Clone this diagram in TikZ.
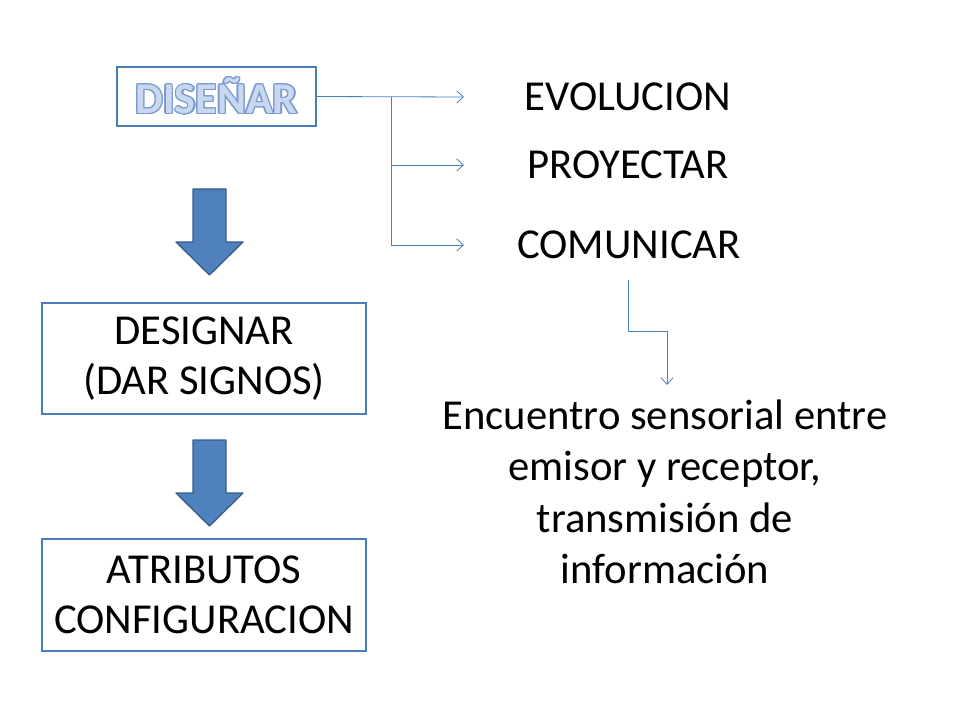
\documentclass[tikz,border=0pt]{standalone}
\usepackage{fontspec}
\setmainfont{Carlito}
\usepackage{contour}
\usetikzlibrary{arrows.meta}
\definecolor{boxblue}{HTML}{4A7EBB}
\definecolor{fillblue}{HTML}{4F81BD}
\definecolor{darkblue}{HTML}{385D8A}
\definecolor{outblue}{HTML}{7B9BD0}
\definecolor{lightblue}{HTML}{C9D8EE}
\contourlength{0.9pt}
\begin{document}
\begin{tikzpicture}[x=0.75pt,y=-0.75pt]
\tikzset{box/.style={draw=boxblue,line width=1.5pt,align=center,inner sep=0pt,
  font=\fontsize{32}{37.5}\selectfont},
 word/.style={align=center,inner sep=0pt,font=\fontsize{32}{38.5}\selectfont},
 link/.style={draw=boxblue,line width=0.6pt,-{Straight Barb[length=5pt,width=9pt]}},
 blockarrow/.style={fill=fillblue,draw=darkblue,line width=1pt,line join=round}}
\useasboundingbox (0,0) rectangle (960,720);
% The boxes on the left
\node[box,minimum width=149pt,minimum height=44pt] (dis) at (216.5,96.5)
  {\fontsize{33}{38}\selectfont\bfseries\contour{outblue}{\textcolor{lightblue}{DISEÑAR}}};
\node[box,minimum width=243pt,minimum height=83pt] (des) at (204,358.5)
  {DESIGNAR\\(DAR SIGNOS)};
\node[box,minimum width=243pt,minimum height=84pt] (atr) at (204,595)
  {ATRIBUTOS\\CONFIGURACION};
%%%
\foreach \top in {189,440}
  \draw[blockarrow] (193,\top) -- (226,\top) -- (226,\top+53) -- (243,\top+53)
    -- (209.5,\top+86) -- (176,\top+53) -- (193,\top+53) -- cycle;
%%%
% The words on the right
\node[word] (evo) at (628,97) {EVOLUCION};
\node[word] (pro) at (628,165) {PROYECTAR};
\node[word] (com) at (629,245) {COMUNICAR};
\node[word] (enc) at (665,492) {Encuentro sensorial entre\\emisor y receptor,\\transmisión de\\información};
%%%
\coordinate (split) at (391,97);
\coordinate (e1) at (464,97);
\coordinate (e2) at (464,165);
\coordinate (e3) at (464,245);
\draw[link] (dis.east) -- (e1);
\draw[link] (split) |- (e2);
\draw[link] (split) |- (e3);
\coordinate (c1) at (628,280);
\coordinate (c2) at (667,331);
\coordinate (c3) at (667,385);
\draw[link] (c1) |- (c2) -- (c3);
\end{tikzpicture}
\end{document}
